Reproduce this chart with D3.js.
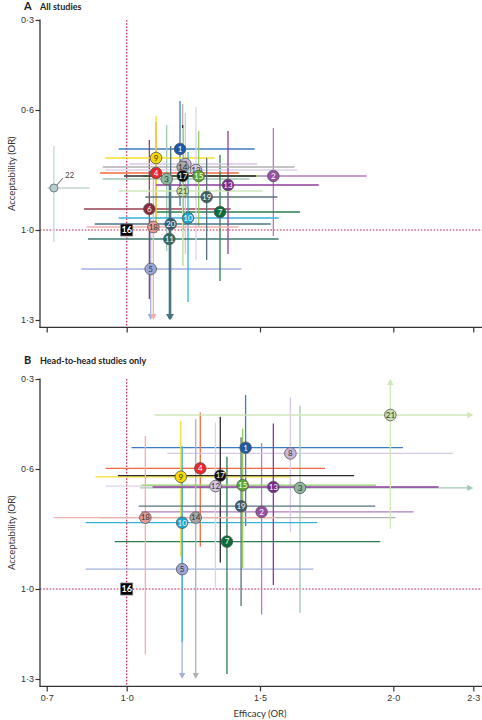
<!DOCTYPE html>
<html>
<head>
<meta charset="utf-8">
<script src="https://cdn.jsdelivr.net/npm/d3@7"></script>
<style>
    body { margin: 0; background: #fff; }
    svg { font-family: "Liberation Sans Narrow", Lato, "Open Sans", sans-serif; }
</style>
</head>
<body>
<div id="chart"></div>
<script>
// Tick values for both panels
const xTicks = [0.7, 1.0, 1.5, 2.0, 2.3];
const yTicks = [0.3, 0.6, 1.0, 1.3];

// [id, efficacy, effLo, effHi, acceptability, accLo, accHi]; null = beyond the axis
const allStudies = [
    [1, 1.20, 0.97, 1.48, 0.73, 0.57, 0.92],
    [2, 1.55, 1.25, 1.90, 0.82, 0.66, 1.02],
    [3, 1.15, 0.91, 1.46, 0.83, 0.65, 1.07],
    [4, 1.11, 0.90, 1.42, 0.81, 0.64, 1.01],
    [5, 1.09, 0.83, 1.43, 1.13, 0.96, null],
    [6, 1.085, 0.84, 1.39, 0.93, 0.70, 1.23],
    [7, 1.35, 1.11, 1.65, 0.94, 0.75, 1.17],
    [8, 1.22, 1.01, 1.49, 0.78, 0.61, 1.08],
    [9, 1.11, 0.92, 1.33, 0.76, 0.62, 0.99],
    [10, 1.23, 0.97, 1.57, 0.96, 0.74, 1.24],
    [11, 1.16, 0.855, 1.57, 1.03, 0.85, null],
    [12, 1.26, 0.92, 1.64, 0.80, 0.59, 1.10],
    [13, 1.38, 1.11, 1.72, 0.85, 0.67, 1.08],
    [14, 1.21, 0.91, 1.63, 0.79, 0.58, 1.12],
    [15, 1.27, 1.06, 1.50, 0.82, 0.67, 0.99],
    [16, 1.00, 1.00, 1.00, 1.00, 1.00, 1.00],
    [17, 1.21, 0.99, 1.485, 0.82, 0.65, 1.00],
    [18, 1.10, 0.85, 1.42, 0.99, 0.80, null],
    [19, 1.30, 1.07, 1.565, 0.89, 0.76, 1.10],
    [20, 1.165, 0.88, 1.54, 0.98, 0.72, null],
    [21, 1.21, 0.97, 1.51, 0.87, 0.66, 1.12],
    [22, 0.727, null, 0.861, 0.86, 0.72, 1.04]
];

const headToHead = [
    [1, 1.446, 1.018, 2.036, 0.529, 0.353, 0.790],
    [2, 1.506, 1.055, 2.076, 0.743, 0.514, 1.085],
    [3, 1.650, 1.049, null, 0.663, 0.389, 1.079],
    [4, 1.276, 0.921, 1.744, 0.598, 0.412, 0.859],
    [5, 1.208, 0.846, 1.700, 0.934, 0.62, null],
    [7, 1.376, 0.955, 1.951, 0.842, 0.559, 1.283],
    [8, 1.614, 1.152, 2.223, 0.548, 0.362, 0.809],
    [9, 1.203, 0.883, 1.613, 0.626, 0.440, 0.892],
    [10, 1.208, 0.846, 1.715, 0.779, 0.523, 1.176],
    [12, 1.333, 0.921, 1.700, 0.657, 0.444, 0.996],
    [13, 1.550, 1.097, 2.170, 0.660, 0.448, 0.987],
    [14, 1.259, 0.900, 2.008, 0.762, 0.434, null],
    [15, 1.435, 1.055, 1.935, 0.654, 0.466, 0.930],
    [16, 1.00, 1.00, 1.00, 1.00, 1.00, 1.00],
    [17, 1.351, 0.967, 1.853, 0.622, 0.426, 0.912],
    [18, 1.070, 0.726, 1.556, 0.762, 0.490, 1.218],
    [19, 1.429, 1.045, 1.932, 0.724, 0.494, 1.057],
    [21, 1.989, 1.105, null, 0.420, null, 0.800]
];

// Colours per treatment id (index = id - 1)
const pointColors = ["#1a5aa6", "#9a4ea6", "#8cb89e", "#e8282a", "#9aa6d8", "#8b2a38", "#0b6b3a",
    "#cbb8dc", "#f5d900", "#1aa7cf", "#2a6b62", "#d3c6e4", "#7a2a8c", "#a6a6a6", "#5aa832",
    "#000000", "#111111", "#e59a94", "#3f5b63", "#2f5d70", "#c9e2ac", "#b8cece"];
const lineColors = ["#3c7cc4", "#b07cc0", "#a0c8b0", "#f26a3c", "#a4b0e0", "#9a4050", "#2a7c4c",
    "#d6c8e6", "#f7de2a", "#34b2da", "#3a7a70", "#dcd2ec", "#8c3c9c", "#b0b0b0", "#90cc64",
    "#000000", "#2a2a2a", "#f0b0ac", "#5a7078", "#4a7486", "#cfe6b8", "#c6d6d6"];
const darkText = [3, 5, 8, 9, 12, 14, 18, 21, 22];

const fmt = d => d3.format(".1f")(d).replace(".", "·");

class PanelVis {
    constructor(_svg, _data, _opts) {
        this.svg = _svg;
        this.data = _data.map(r => ({
            id: r[0], eff: r[1], effLo: r[2], effHi: r[3], acc: r[4], accLo: r[5], accHi: r[6]
        }));
        this.opts = _opts;
        this.initVis();
    }

    initVis() {
        let vis = this;
        const o = vis.opts;

        vis.g = vis.svg.append("g");
        vis.x = d3.scaleLinear().domain([0.7, 2.3]).range([46.7, 473.3]);
        vis.y = d3.scaleLinear().domain([0.3, 1.3]).range([o.top, o.top + 300]);
        vis.axisY = o.top + 307.4;

        // Panel title
        vis.g.append("text")
            .attr("x", 24).attr("y", o.titleY)
            .style("font-size", "11px").style("font-weight", "bold").style("fill", "#222")
            .text(o.letter);
        vis.g.append("text")
            .attr("x", 40).attr("y", o.titleY)
            .style("font-size", "9px").style("font-weight", "bold").style("fill", "#222")
            .text(o.title);

        // Reference lines (placebo)
        vis.g.append("line")
            .attr("x1", vis.x(1)).attr("x2", vis.x(1))
            .attr("y1", vis.y(0.3)).attr("y2", vis.axisY)
            .attr("stroke", "#c8204e").attr("stroke-width", 1.2).attr("stroke-dasharray", "1.6,1.6");
        vis.g.append("line")
            .attr("x1", 40).attr("x2", 482)
            .attr("y1", vis.y(1)).attr("y2", vis.y(1))
            .attr("stroke", "#c8204e").attr("stroke-width", 1.2).attr("stroke-dasharray", "1.6,1.6");

        // Axes
        const yAxis = vis.g.append("g")
            .attr("transform", "translate(40,0)")
            .call(d3.axisLeft(vis.y).tickValues(yTicks).tickFormat(fmt).tickSize(4.5).tickSizeOuter(0));
        yAxis.select(".domain").remove();
        yAxis.selectAll(".tick line").attr("stroke", "#333").attr("stroke-width", 1.2);
        yAxis.selectAll(".tick text").attr("x", -6).style("font-size", "9px").style("fill", "#333")
            .style("font-family", null);
        vis.g.append("line")
            .attr("x1", 40).attr("x2", 40).attr("y1", vis.y(0.3) - 0.6).attr("y2", vis.axisY)
            .attr("stroke", "#333").attr("stroke-width", 1.3);

        const xAxis = vis.g.append("g")
            .attr("transform", `translate(0,${vis.axisY})`)
            .call(d3.axisBottom(vis.x).tickValues(xTicks).tickFormat(o.showX ? fmt : "").tickSize(5).tickSizeOuter(0));
        xAxis.select(".domain").remove();
        xAxis.selectAll(".tick line").attr("stroke", "#333").attr("stroke-width", 1.2);
        xAxis.selectAll(".tick text").attr("y", 8).style("font-size", "9px").style("fill", "#333")
            .style("font-family", null);
        vis.g.append("line")
            .attr("x1", 39.4).attr("x2", 482).attr("y1", vis.axisY).attr("y2", vis.axisY)
            .attr("stroke", "#333").attr("stroke-width", 1.3);

        if (o.showX) {
            vis.g.append("text")
                .attr("x", vis.x(1.5)).attr("y", vis.axisY + 31)
                .attr("text-anchor", "middle")
                .style("font-size", "9.5px").style("fill", "#333")
                .text("Efficacy (OR)");
        }

        vis.g.append("text")
            .attr("transform", `translate(15,${(o.top + vis.axisY) / 2}) rotate(-90)`)
            .attr("text-anchor", "middle")
            .style("font-size", "9.5px").style("fill", "#333")
            .text("Acceptability (OR)");

        vis.updateVis();
    }

    arrow(g, x, y, dir, color) {
        const s = 3.2, l = 6;
        const pts = {
            down: [[x - s, y - l], [x + s, y - l], [x, y]],
            up: [[x - s, y + l], [x + s, y + l], [x, y]],
            right: [[x - l, y - s], [x - l, y + s], [x, y]],
            left: [[x + l, y - s], [x + l, y + s], [x, y]]
        }[dir];
        g.append("path").attr("d", "M" + pts.join("L") + "Z").attr("fill", color);
    }

    updateVis() {
        let vis = this;
        const [x0, x1] = vis.x.domain();
        const [y0, y1] = vis.y.domain();

        const bars = vis.g.append("g").attr("class", "bars");
        vis.data.forEach(d => {
            if (d.effLo === d.effHi && d.accLo === d.accHi) return;
            const c = lineColors[d.id - 1];
            const cx = vis.x(d.eff), cy = vis.y(d.acc);
            const hx0 = vis.x(d.effLo === null ? x0 : d.effLo);
            const hx1 = vis.x(d.effHi === null ? x1 : d.effHi);
            const vy0 = vis.y(d.accLo === null ? y0 : d.accLo);
            const vy1 = vis.y(d.accHi === null ? y1 : d.accHi);

            bars.append("line")
                .attr("x1", d.effLo === null ? hx0 + 4 : hx0).attr("x2", d.effHi === null ? hx1 - 4 : hx1)
                .attr("y1", cy).attr("y2", cy)
                .attr("stroke", c).attr("stroke-width", 1.3);
            bars.append("line")
                .attr("x1", cx).attr("x2", cx)
                .attr("y1", d.accLo === null ? vy0 + 4 : vy0).attr("y2", d.accHi === null ? vy1 - 4 : vy1)
                .attr("stroke", c).attr("stroke-width", 1.3);

            if (d.effLo === null) vis.arrow(bars, hx0, cy, "left", c);
            if (d.effHi === null) vis.arrow(bars, hx1, cy, "right", c);
            if (d.accLo === null) vis.arrow(bars, cx, vy0, "up", c);
            if (d.accHi === null) vis.arrow(bars, cx, vy1, "down", c);
        });

        const marks = vis.g.append("g").attr("class", "marks")
            .selectAll("g")
            .data(vis.data)
            .join("g")
            .attr("transform", d => `translate(${vis.x(d.eff)},${vis.y(d.acc)})`);

        marks.filter(d => d.id === 16).append("rect")
            .attr("x", -6).attr("y", -6).attr("width", 12).attr("height", 12)
            .attr("fill", "#000").attr("stroke", "#777").attr("stroke-width", 0.8);

        marks.filter(d => d.id === 22).append("circle")
            .attr("r", 4)
            .attr("fill", pointColors[21]).attr("stroke", "#5a6a6a").attr("stroke-width", 0.8);
        marks.filter(d => d.id === 22).append("line")
            .attr("x1", 3).attr("y1", -3).attr("x2", 9).attr("y2", -10)
            .attr("stroke", "#333").attr("stroke-width", 0.8);
        marks.filter(d => d.id === 22).append("text")
            .attr("x", 11).attr("y", -10)
            .style("font-size", "8px").style("fill", "#444")
            .text(d => d.id);

        const circ = marks.filter(d => d.id !== 16 && d.id !== 22);
        circ.append("circle")
            .attr("r", 5.8)
            .attr("fill", d => pointColors[d.id - 1])
            .attr("stroke", "#555").attr("stroke-width", 0.8);

        marks.filter(d => d.id !== 22).append("text")
            .attr("text-anchor", "middle")
            .attr("dy", "0.35em")
            .style("font-size", d => d.id === 16 ? "9px" : "8px")
            .style("font-weight", d => d.id === 16 ? "bold" : "normal")
            .style("fill", d => darkText.includes(d.id) ? "#333" : "#fff")
            .text(d => d.id);
    }
}

const svg = d3.select("#chart").append("svg")
    .attr("width", 482)
    .attr("height", 720);

new PanelVis(svg, allStudies, { top: 20, titleY: 10, letter: "A", title: "All studies", showX: false });
new PanelVis(svg, headToHead, { top: 379, titleY: 364, letter: "B", title: "Head-to-head studies only", showX: true });
</script>
</body>
</html>
